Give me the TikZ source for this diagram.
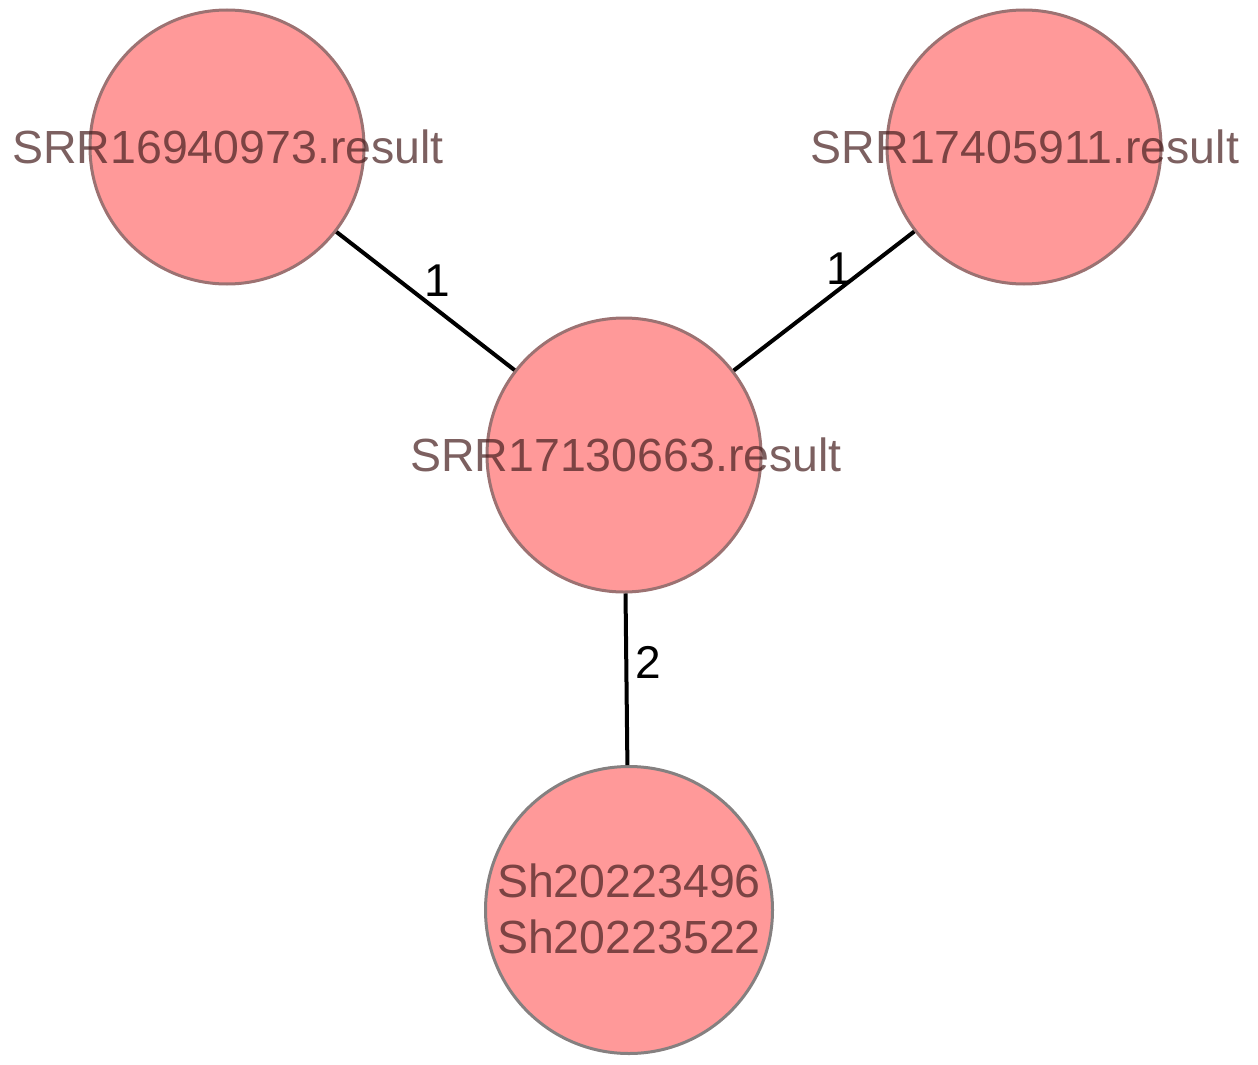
\documentclass[tikz,border=0pt]{standalone}
\usepackage{fontspec}
\setmainfont{Liberation Sans}
\definecolor{discfill}{HTML}{FF9999}
\definecolor{discedge}{HTML}{9C7272}
\definecolor{discedgeg}{HTML}{858080}
\definecolor{labtxt}{HTML}{4A2222}
\begin{document}
\begin{tikzpicture}[x=1pt,y=-1pt,
  disc/.style={circle,draw=discedge,fill=discfill,line width=3pt,inner sep=0pt,minimum size=#1},
  disc/.default=274pt,
  txt/.style={inner sep=0pt,text=labtxt,text opacity=0.72,font=\fontsize{46.5}{56}\selectfont,align=center},
  elab/.style={inner sep=0pt,text=black,font=\fontsize{46}{56}\selectfont},
  link/.style={line width=4pt,black}]
\useasboundingbox (0,0) rectangle (1258,1065);
\node[disc] (a) at (227,147) {};
\node[disc] (b) at (1024,147) {};
\node[disc] (c) at (624,455) {};
\node[disc=287pt,draw=discedgeg] (d) at (629,910) {};
\draw[link] (a) -- (c);
\draw[link] (b) -- (c);
\draw[link] (c) -- (d);
\node[txt] (ta) at (228,147) {SRR16940973.result};
\node[txt] (tb) at (1025,147) {SRR17405911.result};
\node[txt] (tc) at (626,455) {SRR17130663.result};
\node[txt] (td) at (629,909) {Sh20223496\\Sh20223522};
\node[elab] (la) at (437,281) {1};
\node[elab] (lb) at (839,269) {1};
\node[elab] (lc) at (648,662) {2};
\end{tikzpicture}
\end{document}
